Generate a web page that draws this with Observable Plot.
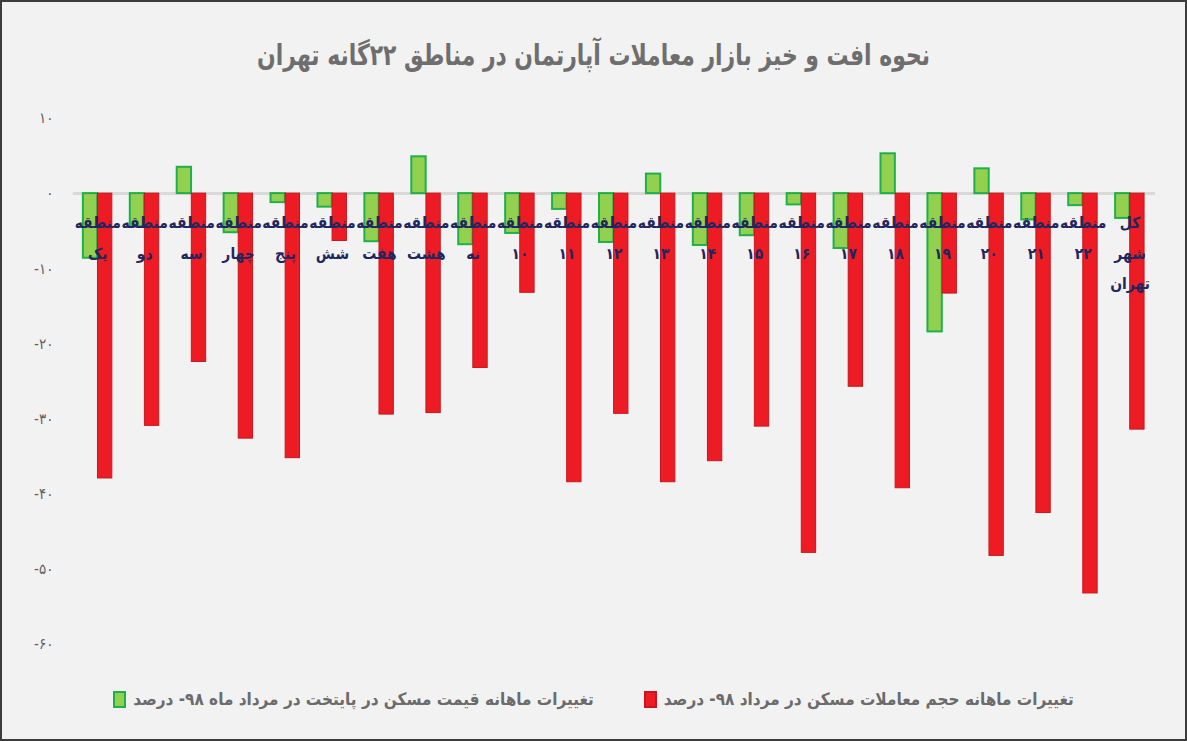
<!DOCTYPE html>
<html>
<head>
<meta charset="utf-8">
<script src="https://cdn.jsdelivr.net/npm/d3@7"></script>
<script src="https://cdn.jsdelivr.net/npm/@observablehq/plot@0.6"></script>
<style>
  html, body { margin: 0; padding: 0; background: #f2f2f2; }
  #wrap { position: relative; width: 1187px; height: 741px; box-sizing: border-box;
          border: 2px solid #3c3c3c; background: #f2f2f2; overflow: hidden;
          font-family: "DejaVu Sans Condensed", "DejaVu Sans", sans-serif; }
  #title { position: absolute; left: 0; right: 0; top: 36px; text-align: center; direction: rtl;
           font-size: 29px; font-weight: bold; color: #6e6e6e; transform: scaleX(0.84); }
  #chart { position: absolute; left: -2px; top: 93px; }
  #legend { position: absolute; left: 0; right: 0; top: 687px; display: flex; justify-content: center;
            gap: 50px; direction: ltr; font-size: 17px; font-weight: bold; color: #6b6b6b; }
  .item { display: flex; align-items: center; gap: 7px; }
  .sw { width: 9px; height: 13px; border: 2px solid; }
</style>
</head>
<body>
<div id="wrap">
  <div id="title"></div>
  <div id="chart"></div>
  <div id="legend"></div>
</div>
<script>
const titleText = "نحوه افت و خیز بازار معاملات آپارتمان در مناطق ۲۲گانه تهران";
const categories = [
  "منطقه یک", "منطقه دو", "منطقه سه", "منطقه چهار", "منطقه پنج", "منطقه شش",
  "منطقه هفت", "منطقه هشت", "منطقه نه", "منطقه ۱۰", "منطقه ۱۱", "منطقه ۱۲",
  "منطقه ۱۳", "منطقه ۱۴", "منطقه ۱۵", "منطقه ۱۶", "منطقه ۱۷", "منطقه ۱۸",
  "منطقه ۱۹", "منطقه ۲۰", "منطقه ۲۱", "منطقه ۲۲", "کل شهر تهران"
];
const priceChange = [-8.6, -4.4, 3.5, -5.2, -1.2, -1.8, -6.4, 4.9, -6.8, -5.3, -2.1, -6.5,
                     2.6, -6.9, -5.6, -1.5, -7.3, 5.3, -18.4, 3.3, -3.5, -1.6, -3.3];
const volumeChange = [-37.9, -30.9, -22.4, -32.6, -35.2, -6.3, -29.4, -29.2, -23.2, -13.2, -38.4, -29.3,
                      -38.4, -35.6, -31.0, -47.8, -25.7, -39.2, -13.3, -48.2, -42.5, -53.2, -31.4];
const yTicks = [10, 0, -10, -20, -30, -40, -50, -60];
const seriesNames = [
  "تغییرات ماهانه قیمت مسکن در پایتخت در مرداد ماه ۹۸- درصد",
  "تغییرات ماهانه حجم معاملات مسکن در مرداد ۹۸- درصد"
];
const greenFill = "#92d050", greenStroke = "#1fb04a";
const redFill = "#ed1c24", redStroke = "#c9161d";

const rows = categories.map((c, i) => ({cat: c, price: priceChange[i], volume: volumeChange[i]}));
const fa = n => String(n).replace(/\d/g, d => "۰۱۲۳۴۵۶۷۸۹"[d]);
const fmt = d => (d < 0 ? "-" : "") + fa(Math.abs(d));

const W = 1187, H = 580, ml = 73, mr = 30, mt = 23, mb = 30;
const pi = 0.38, po = 0.175;
const step = (W - ml - mr) / (categories.length - pi + 2 * po);
const half = step * (1 - pi) / 2;
const font = "DejaVu Sans Condensed, DejaVu Sans, sans-serif";

document.getElementById("title").textContent = titleText;

const chart = Plot.plot({
  width: W, height: H,
  marginLeft: ml, marginRight: mr, marginTop: mt, marginBottom: mb,
  style: {background: "transparent", fontFamily: font},
  x: {domain: categories, paddingInner: pi, paddingOuter: po, axis: null},
  y: {domain: [-60, 10], axis: null},
  marks: [
    Plot.ruleY([0], {stroke: "#d9d9d9", strokeWidth: 3}),
    Plot.axisY({ticks: yTicks, tickFormat: fmt, tickSize: 0, tickPadding: 20, label: null,
                fontSize: 15, fill: "#606060", fontFamily: font}),
    Plot.barY(rows, {x: "cat", y: "price", fill: greenFill, stroke: greenStroke, strokeWidth: 2,
                     insetRight: half}),
    Plot.barY(rows, {x: "cat", y: "volume", fill: redFill, stroke: redStroke, strokeWidth: 1,
                     insetLeft: half}),
    Plot.text(rows, {x: "cat", y: () => 0, text: d => d.cat.split(" ").join("\n"),
                     dy: 12, lineAnchor: "top", lineHeight: 2.0, fontSize: 15.5, fontWeight: "bold",
                     fill: "#1f2660", fontFamily: font})
  ]
});
document.getElementById("chart").appendChild(chart);

const legend = document.getElementById("legend");
[[greenFill, greenStroke, seriesNames[0]], [redFill, redStroke, seriesNames[1]]].forEach(([f, s, t]) => {
  const item = document.createElement("div");
  item.className = "item";
  const sw = document.createElement("div");
  sw.className = "sw";
  sw.style.background = f; sw.style.borderColor = s;
  const tx = document.createElement("span");
  tx.dir = "rtl"; tx.textContent = t;
  item.appendChild(sw); item.appendChild(tx);
  legend.appendChild(item);
});
</script>
</body>
</html>
